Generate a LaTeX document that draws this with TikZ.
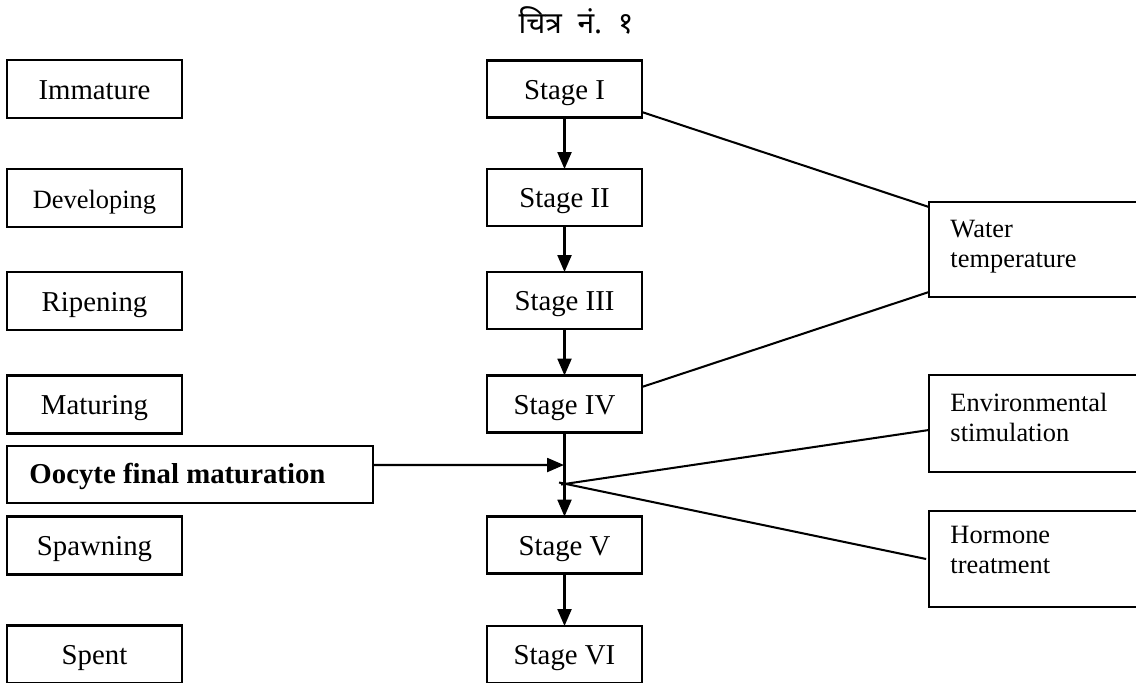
\documentclass[tikz,border=0pt]{standalone}
\usepackage{fontspec}
\setmainfont{Liberation Serif}
\newfontfamily\devfont[Script=Devanagari]{Noto Sans}
\usetikzlibrary{arrows.meta}
\begin{document}
\begin{tikzpicture}[x=0.41667pt,y=-0.41667pt,
  box/.style={draw, line width=0.95pt, inner sep=0pt, outer sep=0pt, text height=8.33pt, text depth=0pt, font=\fontsize{12}{14}\selectfont},
  lbox/.style={box, minimum width=72.92pt, minimum height=24.17pt},
  sbox/.style={box, minimum width=64.58pt, minimum height=23.75pt},
  rbox/.style={box, minimum width=92.08pt},
  rtext/.style={inner sep=0pt, anchor=north west, align=left, font=\fontsize{11}{12.5}\selectfont},
  conn/.style={line width=0.85pt},
  arr/.style={conn, -{Triangle[length=7pt,width=5.8pt]}}
]
\useasboundingbox (0,0) rectangle (1136,682);

% title
\node[anchor=base, inner sep=0pt, font=\devfont\fontsize{12.5}{14}\selectfont] (title) at (576,33) {चित्र\ \ नं.\ \ १};

% left column
\node[lbox] (immature) at (94.5,89) {Immature};
\node[lbox, font=\fontsize{11}{13}\selectfont] (developing) at (94.5,198) {Developing};
\node[lbox] (ripening) at (94.5,301) {Ripening};
\node[lbox] (maturing) at (94.5,404.5) {Maturing};
\node[box, minimum width=152.5pt, minimum height=23.75pt] (oocyte) at (190,474.5) {};
\node[anchor=base west, inner sep=0pt, font=\fontsize{12}{14}\selectfont\bfseries] (oocytetext) at (29,483.5) {Oocyte final maturation};
\node[lbox] (spawning) at (94.5,545.5) {Spawning};
\node[lbox] (spent) at (94.5,654.5) {Spent};

% centre column
\node[sbox] (s1) at (564.5,89) {Stage I};
\node[sbox] (s2) at (564.5,197.5) {Stage II};
\node[sbox] (s3) at (564.5,300.5) {Stage III};
\node[sbox] (s4) at (564.5,404) {Stage IV};
\node[sbox] (s5) at (564.5,545) {Stage V};
\node[sbox] (s6) at (564.5,654.5) {Stage VI};

% right column
\node[rbox, minimum height=39.6pt] (water) at (1039.5,249.5) {};
\node[rtext] (watertext) at (950,220) {Water\\temperature};
\node[rbox, minimum height=40.4pt] (env) at (1039.5,423.5) {};
\node[rtext] (envtext) at (950,393) {Environmental\\stimulation};
\node[rbox, minimum height=40pt] (hormone) at (1039.5,559) {};
\node[rtext] (hormonetext) at (950,526) {Hormone\\treatment};

% coordinates
\coordinate (join) at (564,465);
\coordinate (h0) at (559,482.5);
\coordinate (e0) at (561,484.5);

% stage arrows
\draw[arr] (s1.south) -- (s2.north);
\draw[arr] (s2.south) -- (s3.north);
\draw[arr] (s3.south) -- (s4.north);
\draw[arr] (s4.south) -- (s5.north);
\draw[arr] (s5.south) -- (s6.north);

% oocyte arrow
\draw[arr] ([yshift=3.96pt]oocyte.east) -- (join);

% water temperature lines
\draw[conn] ([yshift=-9.6pt]s1.east) -- ([yshift=-2.1pt]water.north west);
\draw[conn] ([yshift=7.1pt]s4.east) -- ([yshift=2.1pt]water.south west);

% stimulation lines
\draw[conn] (e0) -- ([yshift=-2.7pt]env.west);
\draw[conn] (h0) -- ([xshift=-1.2pt]hormone.west);
\end{tikzpicture}
\end{document}
